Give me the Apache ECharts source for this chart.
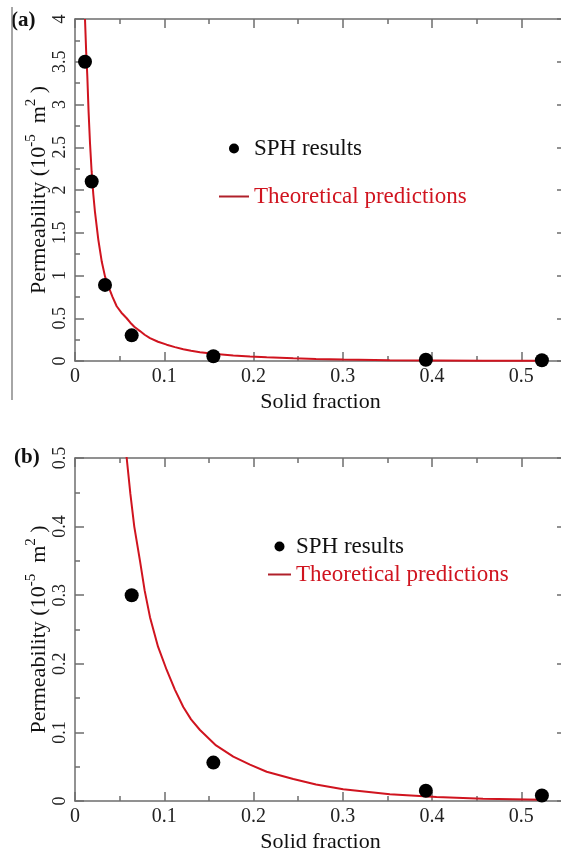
<!DOCTYPE html>
<html>
<head>
<meta charset="utf-8">
<script src="https://cdn.jsdelivr.net/npm/echarts@6/dist/echarts.min.js"></script>
<style>
  html, body { margin: 0; padding: 0; background: #fff; }
  #chart { width: 561px; height: 853px; }
</style>
</head>
<body>
<div id="chart"></div>
<script>
// SPH results (solid fraction, permeability in 1e-5 m^2)
const sphFraction = [0.0112, 0.0187, 0.0336, 0.0635, 0.155, 0.393, 0.523];
const sphPermeability = [3.5, 2.1, 0.89, 0.3, 0.056, 0.015, 0.008];

// theoretical curve
const theoryFraction = [0.0112, 0.0125, 0.0138, 0.0152, 0.0168, 0.0186, 0.0205, 0.0224, 0.0261, 0.0300,
  0.0336, 0.0373, 0.0420, 0.0467, 0.0520, 0.0579, 0.0620, 0.0664, 0.0728, 0.0780, 0.0840, 0.0930,
  0.1027, 0.1120, 0.1213, 0.1300, 0.1400, 0.1580, 0.1773, 0.1960, 0.2147, 0.2445, 0.2700, 0.3004,
  0.3527, 0.4050, 0.4570, 0.5240];
const theoryPermeability = [4.00, 3.62, 3.33, 2.92, 2.55, 2.22, 1.95, 1.74, 1.42, 1.16,
  0.99, 0.875, 0.75, 0.64, 0.565, 0.50, 0.448, 0.40, 0.35, 0.307, 0.268, 0.225,
  0.191, 0.162, 0.137, 0.119, 0.1035, 0.081, 0.0646, 0.053, 0.0427, 0.032, 0.024, 0.017,
  0.0097, 0.0058, 0.0034, 0.0020];

const panels = [
  { label: '(a)', yMax: 4, yStep: 0.5 },
  { label: '(b)', yMax: 0.5, yStep: 0.1 }
];

const serif = "'Liberation Serif', 'DejaVu Serif', serif";
const axisGray = '#6e6e6e';
const red = '#d0141f';

const sphData = sphFraction.map((x, i) => [x, sphPermeability[i]]);
const theoryData = theoryFraction.map((x, i) => [x, theoryPermeability[i]]);

const grids = [
  { left: 75, top: 19, height: 342, right: -5, outerBoundsMode: 'none' },
  { left: 75, top: 458, height: 343, right: -5, outerBoundsMode: 'none' }
];

const xAxes = [];
const yAxes = [];
const series = [];

panels.forEach((p, i) => {
  const tickStyle = { show: true, inside: true, length: 9, lineStyle: { color: axisGray, width: 1.5 } };
  const minor = { show: true, splitNumber: 2, length: 5, lineStyle: { color: axisGray, width: 1.5 } };
  const line = { show: true, onZero: false, lineStyle: { color: axisGray, width: 1.5 } };

  xAxes.push({
    type: 'value', gridIndex: i, position: 'bottom', min: 0, max: 0.55, interval: 0.1,
    axisLine: line, axisTick: tickStyle, minorTick: minor,
    splitLine: { show: false },
    axisLabel: { fontFamily: serif, fontSize: 20, color: '#222', margin: 6, showMaxLabel: false },
    name: 'Solid fraction', nameLocation: 'middle', nameGap: 30, nameMoveOverlap: false,
    nameTextStyle: { fontFamily: serif, fontSize: 22, color: '#111' }
  });
  xAxes.push({
    type: 'value', gridIndex: i, position: 'top', min: 0, max: 0.55, interval: 0.1,
    axisLine: line, axisTick: tickStyle, minorTick: minor,
    splitLine: { show: false }, axisLabel: { show: false }
  });

  yAxes.push({
    type: 'value', gridIndex: i, position: 'left', min: 0, max: p.yMax, interval: p.yStep,
    axisLine: line, axisTick: tickStyle, minorTick: minor,
    splitLine: { show: false },
    axisLabel: { fontFamily: serif, fontSize: 18, color: '#222', rotate: 90, margin: 6 },
    name: 'Permeability (10{sup|-5}  m{sup|2} )', nameLocation: 'middle', nameGap: 20,
    nameMoveOverlap: false,
    nameTextStyle: {
      fontFamily: serif, fontSize: 22, color: '#111',
      rich: { sup: { fontFamily: serif, fontSize: 15, color: '#111', padding: [0, 0, 16, 0] } }
    }
  });
  yAxes.push({
    type: 'value', gridIndex: i, position: 'right', min: 0, max: p.yMax, interval: p.yStep,
    axisLine: line, axisTick: tickStyle, minorTick: minor,
    splitLine: { show: false }, axisLabel: { show: false }
  });

  series.push({
    name: 'Theoretical predictions', type: 'line',
    xAxisIndex: i * 2, yAxisIndex: i * 2,
    data: theoryData, symbol: 'none', smooth: false,
    lineStyle: { color: red, width: 2 }, itemStyle: { color: red },
    clip: true, z: 2
  });
  series.push({
    name: 'SPH results', type: 'scatter',
    xAxisIndex: i * 2, yAxisIndex: i * 2,
    data: sphData, symbol: 'circle', symbolSize: 14,
    itemStyle: { color: '#000', opacity: 1 }, z: 3
  });
});

const legendItems = [
  { name: 'SPH results', icon: 'circle', itemStyle: { color: '#000', opacity: 1 } },
  {
    name: 'Theoretical predictions',
    itemStyle: { color: 'rgba(0,0,0,0)', borderWidth: 0 },
    lineStyle: { color: '#b0202a', width: 2 },
    textStyle: { color: red }
  }
];

const option = {
  animation: false,
  backgroundColor: '#fff',
  grid: grids,
  xAxis: xAxes,
  yAxis: yAxes,
  series: series,
  legend: [
    {
      orient: 'vertical', left: 218, top: 137, padding: 0,
      itemWidth: 30, itemHeight: 10, itemGap: 25,
      textStyle: { fontFamily: serif, fontSize: 23, color: '#111' },
      data: legendItems
    },
    {
      orient: 'vertical', left: 267, top: 535, padding: 0,
      itemWidth: 23, itemHeight: 10, itemGap: 5,
      textStyle: { fontFamily: serif, fontSize: 23, color: '#111' },
      data: legendItems
    }
  ],
  graphic: [
    { type: 'text', left: 11, top: 10, style: { text: panels[0].label, font: 'bold 21px ' + serif, fill: '#111' } },
    { type: 'text', left: 14, top: 447, style: { text: panels[1].label, font: 'bold 21px ' + serif, fill: '#111' } },
    { type: 'line', shape: { x1: 12, y1: 7, x2: 12, y2: 400 }, style: { stroke: '#888', lineWidth: 1.5 } }
  ]
};

const chart = echarts.init(document.getElementById('chart'));
chart.setOption(option);
</script>
</body>
</html>
